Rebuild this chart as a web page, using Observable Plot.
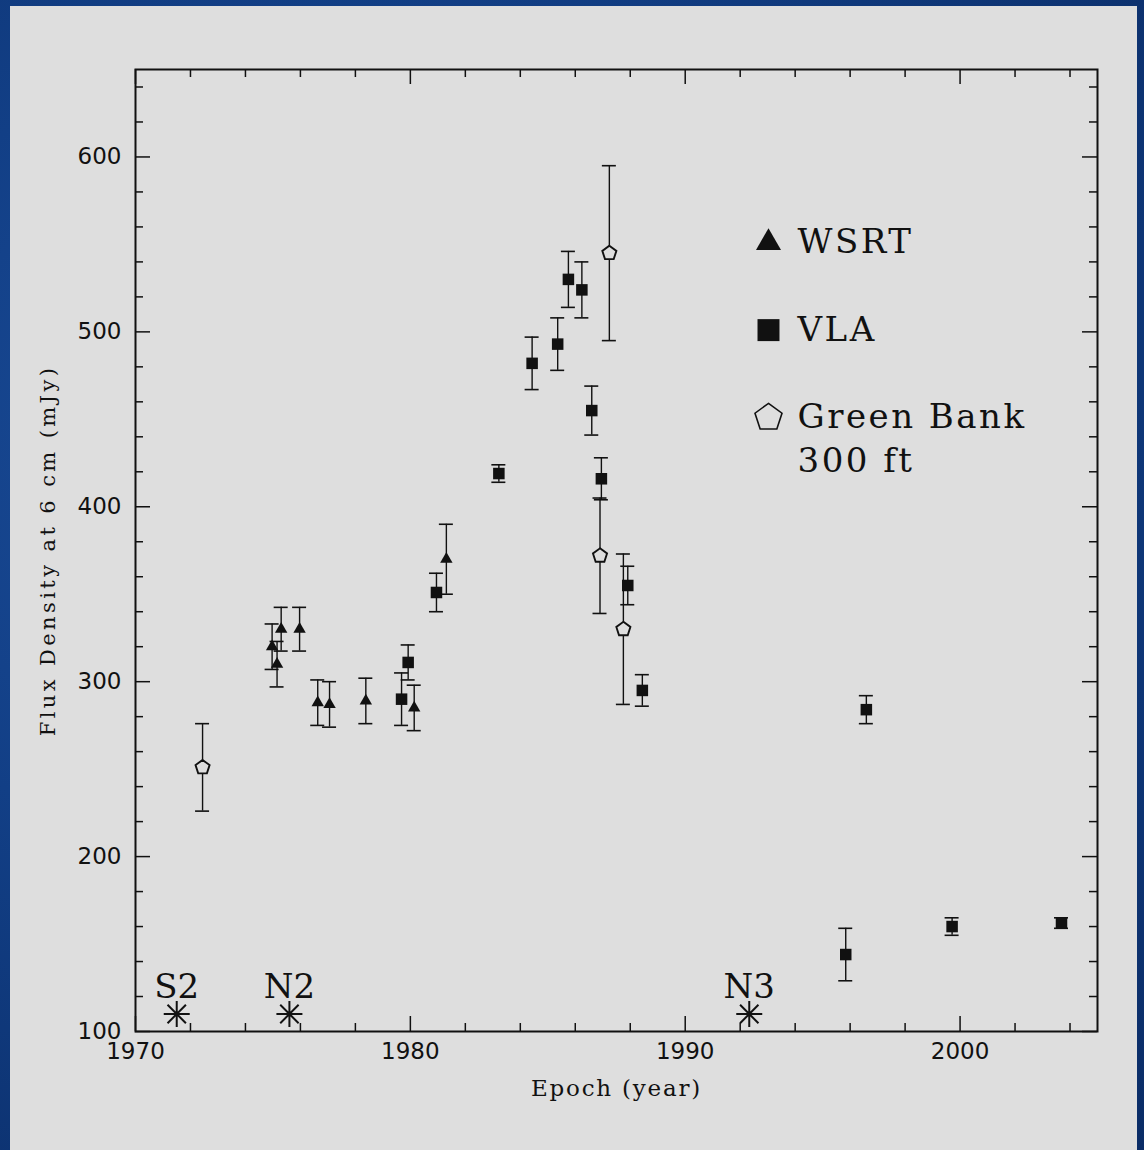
<!DOCTYPE html>
<html>
<head>
<meta charset="utf-8">
<script src="https://cdn.jsdelivr.net/npm/d3@7"></script>
<script src="https://cdn.jsdelivr.net/npm/@observablehq/plot@0.6"></script>
<style>
  html, body { margin: 0; padding: 0; overflow: hidden; }
  body {
    width: 1144px; height: 1150px; position: relative;
    background: radial-gradient(ellipse at 30% 40%, #1d4f9c 0%, #123f86 45%, #0a2c66 100%);
  }
  #panel {
    position: absolute; left: 10px; top: 6px; width: 1127px; height: 1150px;
    background: #dedede;
  }
  #chart { position: absolute; left: 0; top: 0; }
</style>
</head>
<body>
<div id="panel"></div>
<div id="chart"></div>
<script>
// 6 cm flux density of the source, by telescope (epoch in decimal years, mJy, 1-sigma error)
const wsrtYear = [1974.97, 1975.15, 1975.30, 1975.97, 1976.63, 1977.06, 1978.38, 1980.14, 1981.31];
const wsrtFlux = [320, 310, 330, 330, 288, 287, 289, 285, 370];
const wsrtErr  = [13, 13, 12.5, 12.5, 13, 13, 13, 13, 20];

const vlaYear = [1979.68, 1979.92, 1980.95, 1983.22, 1984.43, 1985.36, 1985.75, 1986.24, 1986.60, 1986.95, 1987.91, 1988.44, 1995.84, 1996.59, 1999.71, 2003.69];
const vlaFlux = [290, 311, 351, 419, 482, 493, 530, 524, 455, 416, 355, 295, 144, 284, 160, 162];
const vlaErr  = [15, 10, 11, 5, 15, 15, 16, 16, 14, 12, 11, 9, 15, 8, 5, 3];

const gbYear = [1972.44, 1986.90, 1987.24, 1987.75];
const gbFlux = [251, 372, 545, 330];
const gbErr  = [25, 33, 50, 43];

// Ejection events marked along the bottom of the plot
const eventNames = ["S2", "N2", "N3"];
const eventYears = [1971.5, 1975.6, 1992.33];

// Axis ticks and labels
const xMajorTicks = [1970, 1980, 1990, 2000];
const xMinorTicks = [1972, 1974, 1976, 1978, 1982, 1984, 1986, 1988, 1992, 1994, 1996, 1998, 2002, 2004];
const yMajorTicks = [100, 200, 300, 400, 500, 600];
const yMinorTicks = [120, 140, 160, 180, 220, 240, 260, 280, 320, 340, 360, 380, 420, 440, 460, 480, 520, 540, 560, 580, 620, 640];
const xLabel = "Epoch (year)";
const yLabel = "Flux Density at 6 cm (mJy)";
const legendKeys = ["WSRT", "VLA", "Green Bank"];
const legendLabels = ["WSRT", "VLA", "Green Bank\n300 ft"];

const xDomain = [1970, 2005];
const yDomain = [100, 650];

// Custom symbols: open pentagon and eight-spoked asterisk
const pentagon = {
  draw(ctx, size) {
    const r = Math.sqrt(size / Math.PI);
    for (let k = 0; k < 5; ++k) {
      const a = -Math.PI / 2 + k * 2 * Math.PI / 5;
      const px = r * Math.cos(a), py = r * Math.sin(a);
      if (k === 0) ctx.moveTo(px, py); else ctx.lineTo(px, py);
    }
    ctx.closePath();
  }
};
const star8 = {
  draw(ctx, size) {
    const r = Math.sqrt(size / Math.PI);
    for (let k = 0; k < 4; ++k) {
      const a = k * Math.PI / 4;
      ctx.moveTo(-r * Math.cos(a), -r * Math.sin(a));
      ctx.lineTo(r * Math.cos(a), r * Math.sin(a));
    }
  }
};

const toRows = (years, flux, err, instrument) =>
  years.map((year, i) => ({year, flux: flux[i], lo: flux[i] - err[i], hi: flux[i] + err[i], instrument}));
const wsrt = toRows(wsrtYear, wsrtFlux, wsrtErr, "WSRT");
const vla = toRows(vlaYear, vlaFlux, vlaErr, "VLA");
const gb = toRows(gbYear, gbFlux, gbErr, "Green Bank");
const all = [...gb, ...wsrt, ...vla];

const events = eventNames.map((name, i) => ({name, year: eventYears[i], flux: 110}));

const ink = "#111";
const panel = "#dedede";
const serif = "DejaVu Serif";

// marker style per instrument: [symbol, radius in the plot, radius in the legend, filled]
const style = {
  "WSRT": ["triangle", 4.6, 9.3, true],
  "VLA": ["square", 6.5, 12.4, true],
  "Green Bank": [pentagon, 7.4, 14.2, false]
};

// legend rows stacked in data space at the upper right
const legend = legendKeys.map((key, i) => ({key, label: legendLabels[i], year: 1993.03, flux: 551 - 50 * i}));
const legendDots = legend.map(d => {
  const [symbol, , r, filled] = style[d.key];
  return Plot.dot([d], {x: "year", y: "flux", symbol, r, fill: filled ? ink : "none", stroke: filled ? "none" : ink, strokeWidth: 1.6});
});

const dataDots = [[wsrt, "WSRT"], [vla, "VLA"], [gb, "Green Bank"]].map(([rows, key]) => {
  const [symbol, r, , filled] = style[key];
  return Plot.dot(rows, {x: "year", y: "flux", symbol, r, fill: filled ? ink : panel, stroke: filled ? "none" : ink, strokeWidth: 1.9});
});

const tick = {stroke: ink, strokeWidth: 1.5};

const chart = Plot.plot({
  width: 1144,
  height: 1150,
  marginLeft: 135,
  marginRight: 47,
  marginTop: 69,
  marginBottom: 119,
  x: {domain: xDomain},
  y: {domain: yDomain},
  style: {background: "transparent", fontFamily: "DejaVu Sans", fontSize: "23px", color: ink},
  marks: [
    // inward ticks on all four sides
    Plot.ruleX(xMajorTicks, {x: d => d, y1: () => yDomain[0], y2: () => yDomain[0], insetTop: -15, ...tick}),
    Plot.ruleX(xMinorTicks, {x: d => d, y1: () => yDomain[0], y2: () => yDomain[0], insetTop: -8, ...tick}),
    Plot.ruleX(xMajorTicks, {x: d => d, y1: () => yDomain[1], y2: () => yDomain[1], insetBottom: -15, ...tick}),
    Plot.ruleX(xMinorTicks, {x: d => d, y1: () => yDomain[1], y2: () => yDomain[1], insetBottom: -8, ...tick}),
    Plot.ruleY(yMajorTicks, {y: d => d, x1: () => xDomain[0], x2: () => xDomain[0], insetRight: -15, ...tick}),
    Plot.ruleY(yMinorTicks, {y: d => d, x1: () => xDomain[0], x2: () => xDomain[0], insetRight: -8, ...tick}),
    Plot.ruleY(yMajorTicks, {y: d => d, x1: () => xDomain[1], x2: () => xDomain[1], insetLeft: -15, ...tick}),
    Plot.ruleY(yMinorTicks, {y: d => d, x1: () => xDomain[1], x2: () => xDomain[1], insetLeft: -8, ...tick}),

    Plot.axisX({ticks: xMajorTicks, tickSize: 0, tickPadding: 11, tickFormat: d3.format("d"), label: null, fill: ink, fontSize: 23}),
    Plot.axisY({ticks: yMajorTicks, tickSize: 0, tickPadding: 14, tickFormat: d3.format("d"), label: null, fill: ink, fontSize: 23}),
    Plot.frame({stroke: ink, strokeWidth: 2}),

    // error bars with caps
    Plot.ruleX(all, {x: "year", y1: "lo", y2: "hi", stroke: ink, strokeWidth: 1.4}),
    Plot.ruleY(all, {y: "hi", x1: "year", x2: "year", insetLeft: -7, insetRight: -7, stroke: ink, strokeWidth: 1.6}),
    Plot.ruleY(all, {y: "lo", x1: "year", x2: "year", insetLeft: -7, insetRight: -7, stroke: ink, strokeWidth: 1.6}),

    // measurements
    ...dataDots,

    // ejection events
    Plot.dot(events, {x: "year", y: "flux", symbol: star8, r: 13, stroke: ink, strokeWidth: 2, fill: "none"}),
    Plot.text(events, {x: "year", y: "flux", text: "name", lineAnchor: "bottom", dy: -16, fontFamily: serif, fontSize: 34, fill: ink}),

    // legend
    ...legendDots,
    Plot.text(legend, {x: "year", y: "flux", text: "label", textAnchor: "start", lineAnchor: "top", dx: 29, dy: -21,
      lineHeight: 1.3, fontFamily: serif, fontSize: 34, fill: ink}),

    // axis titles
    Plot.text([xLabel], {frameAnchor: "bottom", textAnchor: "middle", text: d => d, dy: 64, fontFamily: serif, fontSize: 23, fill: ink}),
    Plot.text([yLabel], {frameAnchor: "left", textAnchor: "middle", text: d => d, rotate: -90, dx: -87, fontFamily: serif, fontSize: 21, fill: ink})
  ]
});

// wider letter spacing on the serif legend and axis titles
d3.select(chart).selectAll("g[aria-label='text']").each(function () {
  const size = +this.getAttribute("font-size");
  const text = this.textContent;
  if (size === 34 && text.includes("WSRT")) this.setAttribute("letter-spacing", "2.5px");
  if (size === 23) this.setAttribute("letter-spacing", "1.8px");
  if (size === 21) this.setAttribute("letter-spacing", "3.4px");
});
document.getElementById("chart").appendChild(chart);
</script>
</body>
</html>
